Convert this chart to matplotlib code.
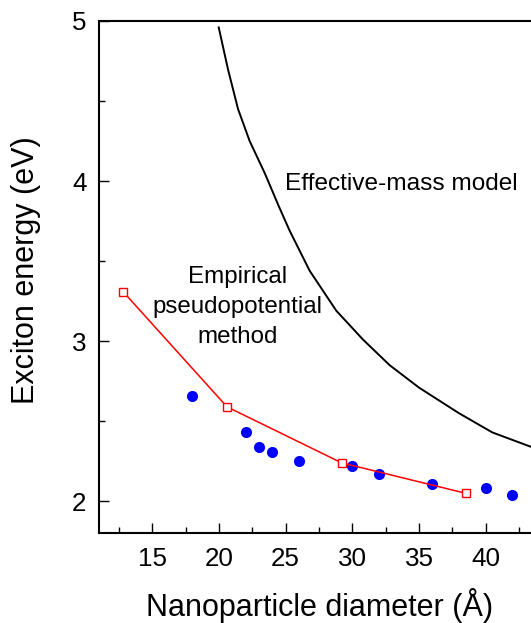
"""Exciton energy vs. nanoparticle diameter: data, pseudopotential and effective-mass curves."""

import matplotlib
matplotlib.use("Agg")
import matplotlib.pyplot as plt
from matplotlib.ticker import MultipleLocator

plt.rcParams["font.family"] = ["Liberation Sans", "DejaVu Sans"]

# measured points
exp_d = [18, 22, 23, 24, 26, 30, 32, 36, 40, 42]
exp_e = [2.66, 2.43, 2.34, 2.31, 2.25, 2.22, 2.17, 2.11, 2.08, 2.04]

# empirical pseudopotential method
epm_d = [12.8, 20.6, 29.2, 38.5]
epm_e = [3.31, 2.59, 2.24, 2.05]

# effective-mass model curve
ema_d = [19.98, 20.67, 21.43, 22.3, 23.43, 24.5, 25.3, 26.8, 28.8, 30.8,
         32.8, 35.0, 38.0, 40.5, 43.4]
ema_e = [4.96, 4.70, 4.45, 4.25, 4.05, 3.84, 3.69, 3.44, 3.19, 3.01,
         2.85, 2.71, 2.55, 2.43, 2.34]

fig = plt.figure(figsize=(5.31, 6.23), dpi=100)
# the original is cropped on the right, so the axes run to the figure edge
ax = fig.add_axes([0.1864, 0.144, 0.8136, 0.8223])

ax.plot(ema_d, ema_e, color="black", linewidth=1.4)
ax.plot(exp_d, exp_e, "o", color="blue", markersize=8, markeredgewidth=0)
ax.plot(epm_d, epm_e, "-s", color="red", linewidth=1.1,
        markersize=5.8, markerfacecolor="white", markeredgecolor="red",
        markeredgewidth=1.0)

ax.set_xlim(11, 43.4)
ax.set_ylim(1.8, 5)
ax.xaxis.set_major_locator(MultipleLocator(5))
ax.xaxis.set_minor_locator(MultipleLocator(2.5))
ax.yaxis.set_major_locator(MultipleLocator(1))
ax.yaxis.set_minor_locator(MultipleLocator(0.5))

ax.tick_params(which="both", direction="in", width=1.0, labelsize=18.7,
               top=False, right=False)
ax.tick_params(which="major", length=7)
ax.tick_params(which="minor", length=4.5)
ax.tick_params(axis="x", pad=10)
ax.tick_params(axis="y", pad=9)
for side in ("left", "bottom", "top"):
    ax.spines[side].set_linewidth(1.5)
ax.spines["right"].set_visible(False)

ax.set_xlabel("Nanoparticle diameter (Å)", fontsize=22, va="center")
ax.set_ylabel("Exciton energy (eV)", fontsize=22, va="center")
ax.xaxis.set_label_coords(0.6026, 0.0273, transform=fig.transFigure)
ax.yaxis.set_label_coords(0.049, 0.5666, transform=fig.transFigure)

ax.text(24.93, 3.98, "Effective-mass model", fontsize=17.6,
        ha="left", va="center")
ax.text(21.4, 3.214, "Empirical\npseudopotential\nmethod", fontsize=17.4,
        ha="center", va="center", multialignment="center", linespacing=1.45)

fig.savefig("out.png", dpi=100)
plt.close(fig)
